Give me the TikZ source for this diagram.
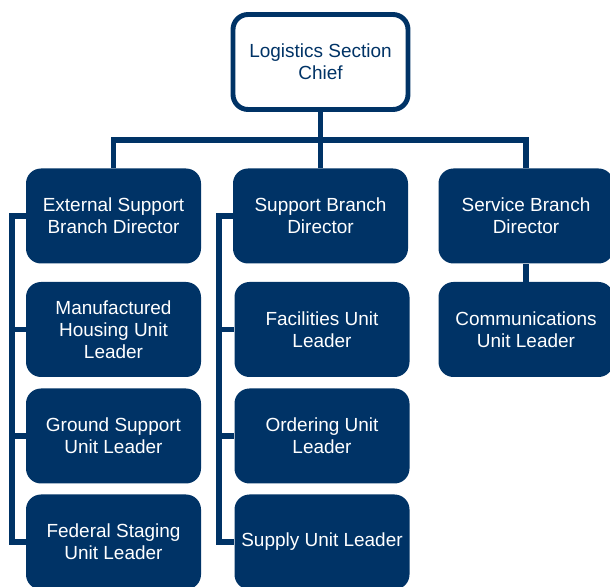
\documentclass[tikz,border=0pt]{standalone}
\usepackage{fontspec}
\setmainfont{Liberation Sans}
\definecolor{navy}{RGB}{0,51,102}
\tikzset{
  box/.style={rectangle, rounded corners=0.3cm, minimum width=3.5cm, minimum height=1.9cm,
    inner sep=0pt, align=center, fill=navy, text=white},
  chiefbox/.style={box, fill=white, draw=navy, line width=2.8pt, text=navy},
  link/.style={draw=navy, line width=3.2pt, line join=miter}
}
\begin{document}
\begin{tikzpicture}[font=\fontsize{10.8}{12.5}\selectfont]

\useasboundingbox (0,0) rectangle (12.2,11.74);
\clip (0,0) rectangle (12.2,11.74);

\node[chiefbox] (chief) at (6.41,10.50) {Logistics Section\\Chief};

\node[box] (ext) at (2.27,7.42) {External Support\\Branch Director};
\node[box] (sup) at (6.41,7.42) {Support Branch\\Director};
\node[box] (svc) at (10.52,7.42) {Service Branch\\Director};

\node[box] (mfg) at (2.27,5.15) {Manufactured\\Housing Unit\\Leader};
\node[box] (gsu) at (2.27,3.02) {Ground Support\\Unit Leader};
\node[box] (fed) at (2.27,0.90) {Federal Staging\\Unit Leader};

\node[box] (fac) at (6.44,5.15) {Facilities Unit\\Leader};
\node[box] (ord) at (6.44,3.02) {Ordering Unit\\Leader};
\node[box] (sul) at (6.44,0.90) {Supply Unit Leader};

\node[box] (com) at (10.52,5.15) {Communications\\Unit Leader};

\coordinate (bus) at (6.41,8.94);
\coordinate (spineL) at (0.24,0);
\coordinate (spineM) at (4.38,0);

\draw[link] (chief.south) -- (sup.north);
\draw[link] (ext.north) |- (bus) -| (svc.north);
\draw[link] (svc.south) -- (com.north);

% branch spines
\draw[link] (ext.west) -- (ext.west -| spineL) |- (fed.west);
\draw[link] (sup.west) -- (sup.west -| spineM) |- (sul.west);
\foreach \n in {mfg,gsu}
  \draw[link] (spineL |- \n.west) -- (\n.west);
\foreach \n in {fac,ord}
  \draw[link] (spineM |- \n.west) -- (\n.west);

\end{tikzpicture}
\end{document}
